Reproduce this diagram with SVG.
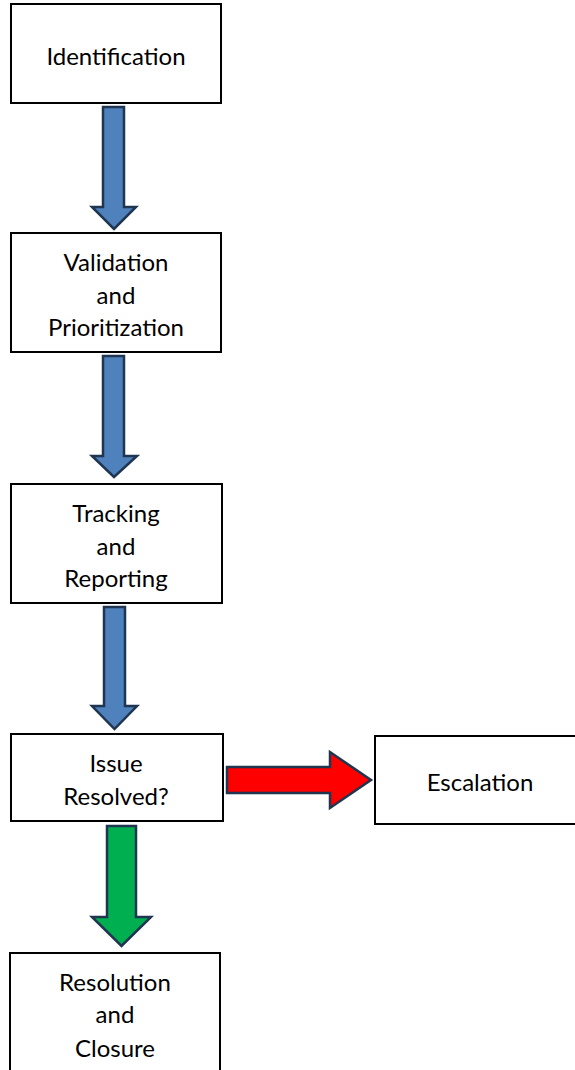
<svg xmlns="http://www.w3.org/2000/svg" width="575" height="1070" viewBox="0 0 575 1070">
<style>
.box{fill:#fff;stroke:#000;stroke-width:2}
.lbl{font-family:Lato,"Liberation Sans",sans-serif;font-size:24px;fill:#000;text-anchor:middle;dominant-baseline:central}
.blue{fill:#4F81BD;stroke:#1F3550;stroke-width:2.5;stroke-linejoin:miter}
.green{fill:#00B050;stroke:#1F3550;stroke-width:2.5}
.red{fill:#FF0000;stroke:#1F3550;stroke-width:2.5}
</style>
<rect width="575" height="1070" fill="#fff"/>
<g id="connectors">
<polygon class="blue" points="103,107 124,107 124,207 136,207 114,229 92,207 103,207"/>
<polygon class="blue" points="103,356 124,356 124,456 137,456 114,477 92,456 103,456"/>
<polygon class="blue" points="104,607 125,607 125,706 137,706 114.5,729 92,706 104,706"/>
<polygon class="green" points="107,826 136,826 136,917 151,917 121.5,946 92,917 107,917"/>
<polygon class="red" points="227,767 330,767 330,752 371,780 330,808 330,793 227,793"/>
</g>
<g id="identification">
<rect class="box" x="11" y="4" width="210" height="99"/>
<text class="lbl" x="116" y="55">Identification</text>
</g>
<g id="validation">
<rect class="box" x="11" y="233" width="210" height="119"/>
<text class="lbl" x="116" y="261">Validation</text>
<text class="lbl" x="116" y="294">and</text>
<text class="lbl" x="116" y="326">Prioritization</text>
</g>
<g id="tracking">
<rect class="box" x="11" y="484" width="211" height="119"/>
<text class="lbl" x="116" y="512">Tracking</text>
<text class="lbl" x="116" y="545">and</text>
<text class="lbl" x="116" y="577">Reporting</text>
</g>
<g id="issue">
<rect class="box" x="11" y="734" width="212" height="87"/>
<text class="lbl" x="116" y="762">Issue</text>
<text class="lbl" x="116" y="795">Resolved?</text>
</g>
<g id="escalation">
<rect class="box" x="375" y="736" width="205" height="88"/>
<text class="lbl" x="480" y="781">Escalation</text>
</g>
<g id="resolution">
<rect class="box" x="10" y="953" width="210" height="130"/>
<text class="lbl" x="115" y="981">Resolution</text>
<text class="lbl" x="115" y="1013">and</text>
<text class="lbl" x="115" y="1047">Closure</text>
</g>
</svg>
